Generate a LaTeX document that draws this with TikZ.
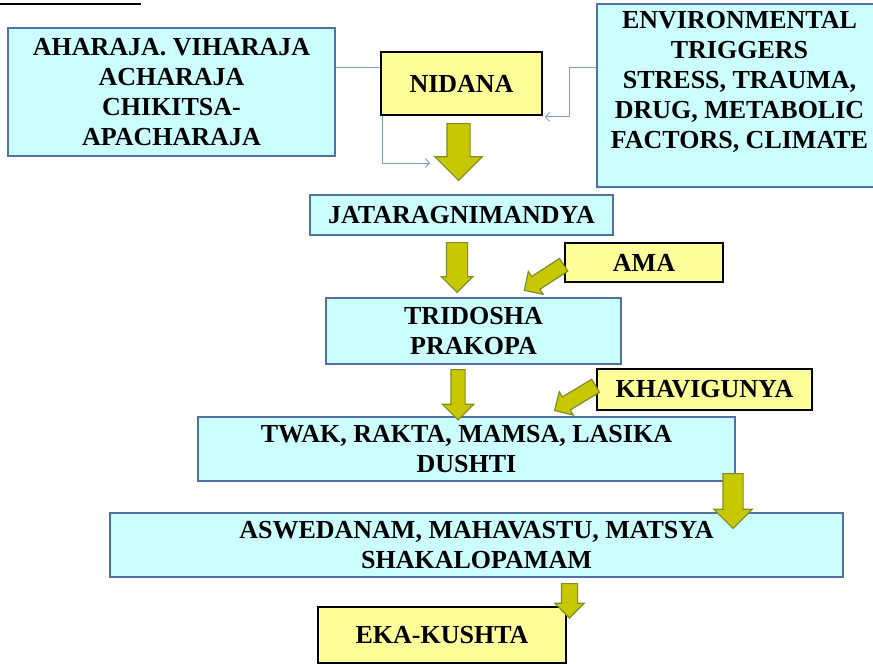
\documentclass[tikz,border=0pt]{standalone}
\usepackage{fontspec}
\newfontfamily\slidefont{Liberation Serif}
\usepackage{tikz}
\usetikzlibrary{positioning}
\usetikzlibrary{shapes.arrows}
\usetikzlibrary{arrows.meta}
\usetikzlibrary{backgrounds}
\usepackage{xcolor}
\definecolor{boxcyan}{RGB}{204,255,255}
\definecolor{boxedge}{RGB}{79,113,163}
\definecolor{boxyellow}{RGB}{255,255,153}
\definecolor{olivefill}{RGB}{200,200,0}
\definecolor{oliveedge}{RGB}{128,140,40}
\definecolor{linkblue}{RGB}{124,158,210}

\tikzset{
  cyanbox/.style={draw=boxedge, fill=boxcyan, line width=1.4pt, inner sep=0pt, align=center},
  yellowbox/.style={draw=black, fill=boxyellow, line width=1.8pt, inner sep=0pt, align=center},
  fat/.style n args={3}{single arrow, draw=oliveedge, fill=olivefill, line width=1.2pt,
    anchor=tail, single arrow tip angle=90, single arrow head indent=0pt,
    inner xsep=#1, inner ysep=#2, single arrow head extend=#3},
  link/.style={draw=linkblue, line width=0.9pt, -{Straight Barb[length=4pt,width=9pt]}},
}

\begin{document}
\begin{tikzpicture}[x=1pt, y=1pt,
    every node/.style={font=\slidefont\bfseries\fontsize{26}{30}\selectfont}]
  \useasboundingbox (0,0) rectangle (873,-664);
  \draw[line width=1.2pt] (0,-4) -- (141,-4);

  \node[cyanbox, minimum width=327, minimum height=128] (diet) at (171.5,-92)
    {AHARAJA. VIHARAJA\\ACHARAJA\\CHIKITSA-\\APACHARAJA};
  \node[yellowbox, minimum width=161, minimum height=63] (nidana) at (461.5,-83.5) {NIDANA};
  \node[cyanbox] (env) at (762,-95.5)
    {\parbox[c][183pt][t]{330pt}{\vspace{7pt}\hspace*{4.5pt}\parbox[t]{276pt}{\centering
      ENVIRONMENTAL\\TRIGGERS\\STRESS, TRAUMA,\\DRUG, METABOLIC\\FACTORS, CLIMATE}}};
  \coordinate (nidanain) at (430,-163);

  \node[cyanbox, minimum width=303, minimum height=40] (agni) at (461.5,-215) {JATARAGNIMANDYA};
  \node[yellowbox, minimum width=158, minimum height=39] (ama) at (644,-262.5) {AMA};
  \node[cyanbox, minimum width=295, minimum height=66] (dosha) at (473.5,-331) {TRIDOSHA\\PRAKOPA};
  \node[yellowbox, minimum width=215, minimum height=41] (khav) at (704.5,-389.5) {KHAVIGUNYA};
  \node[cyanbox, minimum width=537, minimum height=64] (dushti) at (466.5,-449)
    {TWAK, RAKTA, MAMSA, LASIKA\\DUSHTI};
  \node[cyanbox, minimum width=733, minimum height=64] (lakshana) at (476.5,-545)
    {ASWEDANAM, MAHAVASTU, MATSYA\\SHAKALOPAMAM};
  \node[yellowbox, minimum width=248, minimum height=56] (kushta) at (442,-635) {EKA-KUSHTA};

  \begin{scope}[on background layer]
    \draw[link] ([yshift=-40pt]diet.north east) -| ([xshift=2pt]nidana.south west) |- (nidanain);
    \draw[link] ([yshift=-64pt]env.north west) -| ([xshift=27pt,yshift=-1pt]nidana.south east)
      -- ([xshift=2pt,yshift=-1pt]nidana.south east);
  \end{scope}

  \node[fat={22pt}{11pt}{12pt}, rotate=-90] (a1) at (458.5,-123) {};
  \node[fat={19pt}{10pt}{5pt}, rotate=-90] (a2) at (457,-242) {};
  \node[fat={21pt}{6.5pt}{8.5pt}, rotate=-90] (a3) at (458,-369) {};
  \node[fat={21.75pt}{9.5pt}{9pt}, rotate=-90] (a4) at (733,-473) {};
  \node[fat={12.5pt}{7.5pt}{6.5pt}, rotate=-90] (a5) at (569.5,-583) {};
  \node[fat={19pt}{7pt}{6pt}, rotate=213] (a6) at ([yshift=-2pt]ama.west) {};
  \node[fat={19.5pt}{7pt}{6pt}, rotate=211] (a7) at ([yshift=4pt]khav.west) {};
\end{tikzpicture}
\end{document}
